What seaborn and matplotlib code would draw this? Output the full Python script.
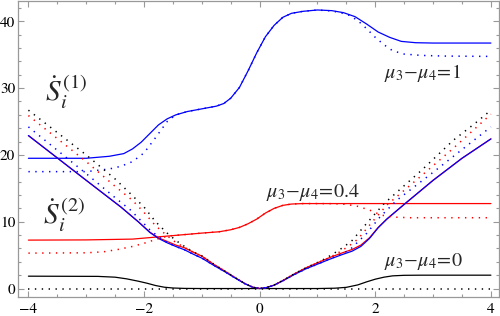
import matplotlib
matplotlib.use("Agg")
import matplotlib.pyplot as plt
import seaborn as sns
import pandas as pd
from matplotlib.ticker import MultipleLocator

# ---------------- data ----------------
# S_i^(1): V-shaped curves (solid red & blue nearly coincide)
v_x = [-4, -3, -2.4, -2.1, -1.9, -1.75, -1.6, -1.45, -1.3, -1.15, -1.0, -0.8, -0.6, -0.4,
       -0.25, -0.12, 0, 0.12, 0.25, 0.4, 0.6, 0.8, 1.0, 1.2, 1.4, 1.6, 1.75, 1.9, 2.05, 2.2,
       2.5, 3.0, 3.5, 4]
v_blue_solid = [22.9, 16.2, 12.2, 10.0, 8.4, 7.5, 6.85, 6.3, 5.8, 5.15, 4.55, 3.5, 2.5, 1.45,
                0.7, 0.2, 0.0, 0.15, 0.5, 1.15, 2.1, 2.95, 3.65, 4.35, 5.0, 5.6, 6.3, 7.5, 9.1, 10.4,
                12.6, 16.2, 19.5, 22.4]
v_red_solid = [22.9, 16.2, 12.2, 10.0, 8.45, 7.6, 7.05, 6.5, 6.1, 5.45, 4.85, 3.65, 2.6, 1.5,
               0.72, 0.2, 0.0, 0.16, 0.52, 1.2, 2.2, 3.1, 3.85, 4.6, 5.25, 5.85, 6.5, 7.6, 9.15, 10.4,
               12.6, 16.2, 19.5, 22.4]

vd_black_x = [-4, -3, -2.5, -2.2, -2.0, -1.8, -1.6, -1.45, -1.3, -1.15, -1.0, -0.8, -0.6, -0.4,
              -0.25, -0.12, 0, 0.12, 0.25, 0.4, 0.6, 0.8, 1.0, 1.15, 1.3, 1.45, 1.6, 1.85, 2.15, 2.5,
              2.8, 3.35, 3.75, 4]
vd_black_y = [26.7, 20.0, 16.4, 13.9, 12.2, 10.0, 8.3, 7.2, 6.3, 5.5, 4.9, 3.7, 2.6, 1.5,
              0.72, 0.2, 0.0, 0.16, 0.52, 1.2, 2.2, 3.1, 3.9, 4.55, 5.35, 6.2, 7.2, 9.75, 12.7, 15.4,
              17.7, 22.2, 24.9, 26.7]

vd_red_x = [-4, -3, -2.5, -2.2, -2.0, -1.8, -1.6, -1.45, -1.3, -1.15, -1.0, -0.8, -0.6, -0.4,
            -0.25, -0.12, 0, 0.12, 0.25, 0.4, 0.6, 0.8, 1.0, 1.2, 1.4, 1.55, 1.7, 1.95, 2.2, 2.5,
            2.8, 3.35, 4]
vd_red_y = [25.9, 19.0, 15.3, 13.2, 11.4, 9.4, 7.9, 6.9, 6.15, 5.45, 4.85, 3.65, 2.6, 1.5,
            0.72, 0.2, 0.0, 0.16, 0.52, 1.2, 2.2, 3.1, 3.85, 4.6, 5.55, 6.4, 7.4, 10.0, 12.5, 14.7,
            16.9, 21.0, 26.1]

vd_blue_x = [-4, -3, -2.5, -2.24, -2.0, -1.9, -1.75, -1.6, -1.45, -1.3, -1.15, -1.0, -0.8, -0.6,
             -0.4, -0.25, -0.12, 0, 0.12, 0.25, 0.4, 0.6, 0.8, 1.0, 1.2, 1.4, 1.56, 1.85, 2.08, 2.37,
             3.0, 3.5, 4]
vd_blue_y = [24.2, 17.2, 13.6, 11.8, 9.7, 8.8, 7.75, 6.9, 6.3, 5.8, 5.15, 4.55, 3.5, 2.5,
             1.45, 0.7, 0.2, 0.0, 0.15, 0.5, 1.15, 2.1, 2.95, 3.65, 4.4, 5.1, 5.8, 8.25, 10.7, 13.2,
             17.4, 20.8, 24.2]

# S_i^(2): plateau curves, mu3-mu4 = 1 (blue)
s2_blue_x = [-4, -3.0, -2.6, -2.35, -2.2, -2.05, -1.9, -1.75, -1.6, -1.45, -1.25, -1.0, -0.75,
             -0.62, -0.5, -0.35, -0.2, -0.05, 0.1, 0.25, 0.4, 0.55, 0.75, 1.0, 1.25, 1.45, 1.65,
             1.85, 2.05, 2.25, 2.45, 2.7, 3.0, 4.0]
s2_blue_y = [19.5, 19.5, 19.8, 20.2, 20.9, 21.9, 23.2, 24.5, 25.4, 26.0, 26.5, 26.9, 27.3,
             27.7, 28.5, 30.1, 32.6, 35.3, 37.7, 39.4, 40.6, 41.2, 41.5, 41.7, 41.6, 41.3, 40.7,
             39.6, 38.4, 37.6, 37.0, 36.8, 36.75, 36.75]
s2_blue_dot_x = [-4, -3.0, -2.6, -2.4, -2.2, -2.0, -1.8, -1.6, -1.45, -1.25, -1.0, -0.75, -0.62,
                 -0.5, -0.35, -0.2, -0.05, 0.1, 0.25, 0.4, 0.55, 0.75, 1.0, 1.25, 1.4, 1.55, 1.7,
                 1.85, 2.0, 2.15, 2.3, 2.5, 2.8, 3.2, 4.0]
s2_blue_dot_y = [17.5, 17.5, 17.9, 18.3, 19.0, 20.3, 22.6, 25.0, 26.0, 26.5, 26.9, 27.3, 27.7,
                 28.5, 30.1, 32.6, 35.3, 37.7, 39.4, 40.6, 41.2, 41.5, 41.7, 41.55, 41.3, 40.9, 40.1,
                 38.9, 37.6, 36.5, 35.6, 35.1, 34.9, 34.8, 34.75]

# mu3-mu4 = 0.4 (red)
s2_red_x = [-4, -3, -2.2, -1.6, -1.0, -0.7, -0.5, -0.35, -0.2, -0.05, 0.1, 0.25, 0.4, 0.55,
            0.75, 1.0, 4]
s2_red_y = [7.25, 7.28, 7.4, 7.85, 8.3, 8.5, 8.8, 9.15, 9.7, 10.4, 11.3, 12.0, 12.45, 12.65,
            12.72, 12.72, 12.72]
s2_red_dot_x = [-4, -3, -2.7, -2.45, -2.2, -1.95, -1.8, -1.65, -1.6, -1.0, -0.7, -0.5, -0.35,
                -0.2, -0.05, 0.1, 0.25, 0.4, 0.55, 0.75, 1.0, 1.3, 1.5, 1.7, 1.9, 2.1, 2.3, 2.6, 4]
s2_red_dot_y = [5.3, 5.35, 5.5, 5.85, 6.3, 6.9, 7.35, 7.7, 7.85, 8.3, 8.5, 8.8, 9.15,
                9.7, 10.4, 11.3, 12.0, 12.45, 12.65, 12.72, 12.72, 12.7, 12.6, 12.3, 11.75, 11.0,
                10.7, 10.6, 10.6]

# mu3-mu4 = 0 (black)
s2_black_x = [-4, -2.8, -2.5, -2.3, -2.1, -1.95, -1.8, -1.65, -1.5, -1.3, -1.0, 1.0, 1.3, 1.5,
              1.7, 1.85, 2.0, 2.15, 2.3, 2.5, 2.8, 4]
s2_black_y = [1.85, 1.82, 1.7, 1.45, 1.1, 0.8, 0.45, 0.2, 0.08, 0.02, 0.0, 0.0, 0.05, 0.18,
              0.55, 1.0, 1.4, 1.7, 1.9, 1.98, 2.0, 2.0]
s2_black_dot_x = [-4, 4]
s2_black_dot_y = [0, 0]

x_ticks = [-4, -2, 0, 2, 4]
y_ticks = [0, 10, 20, 30, 40]
labels = [r"$\mu_3\!-\!\mu_4\!=\!1$", r"$\mu_3\!-\!\mu_4\!=\!0.4$", r"$\mu_3\!-\!\mu_4\!=\!0$"]

# ---------------- plotting ----------------
sns.set_style("ticks")
plt.rcParams["font.family"] = ["STIXGeneral", "DejaVu Sans"]
plt.rcParams["mathtext.fontset"] = "stix"

fig = plt.figure(figsize=(5, 3.16), dpi=100)
ax = fig.add_axes([0.036, 0.059, 0.962, 0.939])

BLUE, RED, BLACK = "#0000ff", "#ff0000", "#000000"
DOT = (0, (0.9, 3.6))

solid = [
    (s2_black_x, s2_black_y, BLACK),
    (s2_red_x, s2_red_y, RED),
    (s2_blue_x, s2_blue_y, BLUE),
    (v_x, v_red_solid, RED),
    (v_x, v_blue_solid, BLUE),
]
dotted = [
    (s2_black_dot_x, s2_black_dot_y, BLACK),
    (s2_red_dot_x, s2_red_dot_y, RED),
    (s2_blue_dot_x, s2_blue_dot_y, BLUE),
    (vd_black_x, vd_black_y, BLACK),
    (vd_red_x, vd_red_y, RED),
    (vd_blue_x, vd_blue_y, BLUE),
]
for xs, ys, c in solid:
    df = pd.DataFrame({"x": xs, "y": ys})
    sns.lineplot(data=df, x="x", y="y", ax=ax, color=c, lw=0.9,
                 estimator=None, sort=False, legend=False)
for xs, ys, c in dotted:
    df = pd.DataFrame({"x": xs, "y": ys})
    sns.lineplot(data=df, x="x", y="y", ax=ax, color=c, lw=1.1, linestyle=DOT,
                 estimator=None, sort=False, legend=False)

ax.set_xlim(-4.18, 4.14)
ax.set_ylim(-1.32, 43.1)
ax.set_xlabel("")
ax.set_ylabel("")
ax.set_xticks(x_ticks)
ax.set_yticks(y_ticks)
ax.xaxis.set_minor_locator(MultipleLocator(0.5))
ax.yaxis.set_minor_locator(MultipleLocator(2))
FRAME = "#999999"
for s in ax.spines.values():
    s.set_color(FRAME)
    s.set_linewidth(0.9)
ax.tick_params(which="both", direction="in", top=True, right=True, color=FRAME,
               labelsize=11, labelcolor="black", width=0.8)
ax.tick_params(which="major", length=4.5, pad=2)
ax.tick_params(which="minor", length=2.5)
ax.tick_params(axis="x", which="major", pad=4)

ax.text(2.15, 32.2, labels[0], fontsize=14.5, ha="left", va="center")
ax.text(0.11, 14.4, labels[1], fontsize=14.5, ha="left", va="center")
ax.text(2.15, 4.0, labels[2], fontsize=14.5, ha="left", va="center")
ax.text(-3.72, 29.4, r"$\dot{S}_i^{\,(1)}$", fontsize=21, ha="left", va="center")
ax.text(-3.74, 11.0, r"$\dot{S}_i^{\,(2)}$", fontsize=21, ha="left", va="center")

fig.savefig("out.png", dpi=100)
